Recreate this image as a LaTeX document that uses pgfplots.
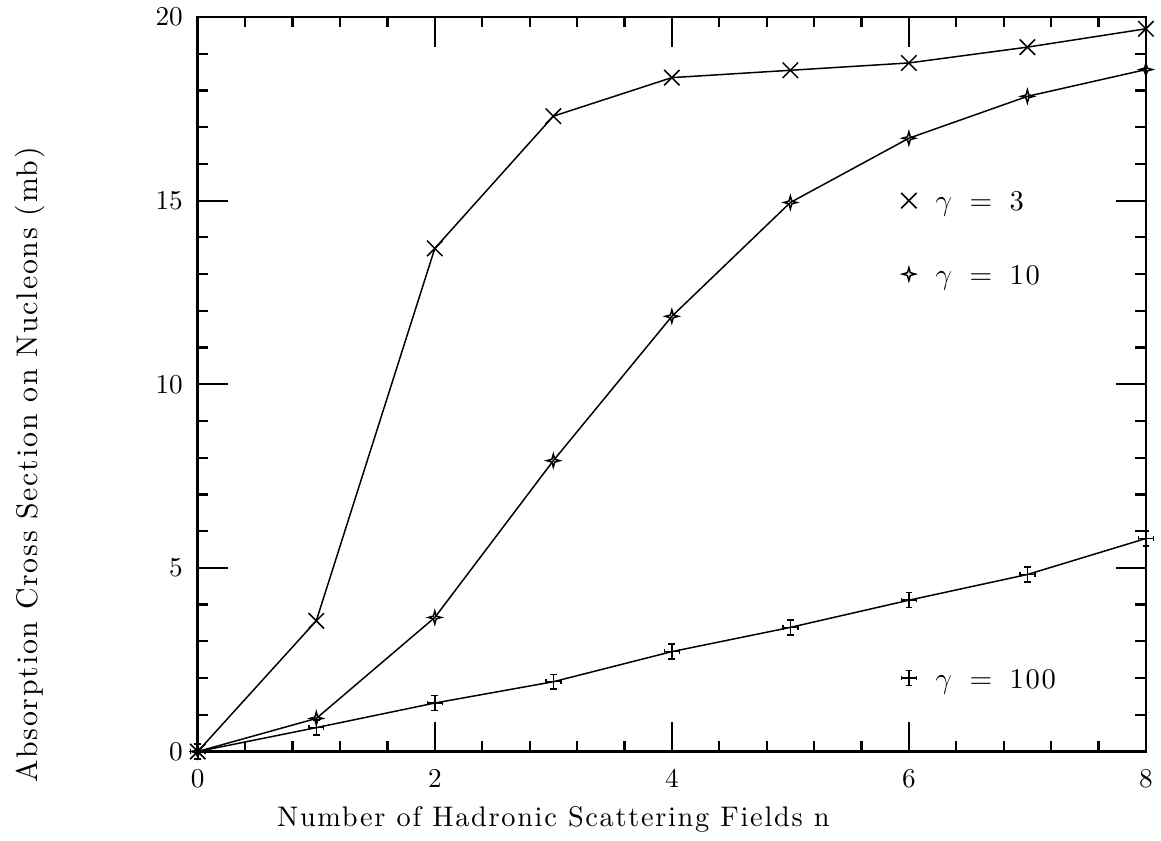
\documentclass[border=0pt]{standalone}
\usepackage{fontspec}
\setmainfont{lmroman10-regular.otf}[LetterSpace=6]
\usepackage{pgfplots}
\usepackage{pgfplotstable}
\pgfplotsset{compat=1.18}

\pgfdeclareplotmark{sparkle}{%
  \pgfpathmoveto{\pgfqpoint{0pt}{\pgfplotmarksize}}%
  \pgfpathlineto{\pgfqpoint{0.22\pgfplotmarksize}{0.22\pgfplotmarksize}}%
  \pgfpathlineto{\pgfqpoint{\pgfplotmarksize}{0pt}}%
  \pgfpathlineto{\pgfqpoint{0.22\pgfplotmarksize}{-0.22\pgfplotmarksize}}%
  \pgfpathlineto{\pgfqpoint{0pt}{-\pgfplotmarksize}}%
  \pgfpathlineto{\pgfqpoint{-0.22\pgfplotmarksize}{-0.22\pgfplotmarksize}}%
  \pgfpathlineto{\pgfqpoint{-\pgfplotmarksize}{0pt}}%
  \pgfpathlineto{\pgfqpoint{-0.22\pgfplotmarksize}{0.22\pgfplotmarksize}}%
  \pgfpathclose\pgfusepathqstroke}

\pgfdeclareplotmark{ebar}{%
  \pgfpathmoveto{\pgfqpoint{0pt}{-\pgfplotmarksize}}\pgfpathlineto{\pgfqpoint{0pt}{\pgfplotmarksize}}%
  \pgfpathmoveto{\pgfqpoint{-0.45\pgfplotmarksize}{\pgfplotmarksize}}\pgfpathlineto{\pgfqpoint{0.45\pgfplotmarksize}{\pgfplotmarksize}}%
  \pgfpathmoveto{\pgfqpoint{-0.45\pgfplotmarksize}{-\pgfplotmarksize}}\pgfpathlineto{\pgfqpoint{0.45\pgfplotmarksize}{-\pgfplotmarksize}}%
  \pgfpathmoveto{\pgfqpoint{-\pgfplotmarksize}{0pt}}\pgfpathlineto{\pgfqpoint{\pgfplotmarksize}{0pt}}%
  \pgfpathmoveto{\pgfqpoint{-\pgfplotmarksize}{-0.3\pgfplotmarksize}}\pgfpathlineto{\pgfqpoint{-\pgfplotmarksize}{0.3\pgfplotmarksize}}%
  \pgfpathmoveto{\pgfqpoint{\pgfplotmarksize}{-0.3\pgfplotmarksize}}\pgfpathlineto{\pgfqpoint{\pgfplotmarksize}{0.3\pgfplotmarksize}}%
  \pgfusepathqstroke}

\pgfplotstableread{
n g3 g10 g100
0 0 0 0
1 3.56 0.90 0.65
2 13.7 3.65 1.32
3 17.3 7.92 1.90
4 18.35 11.85 2.72
5 18.55 14.95 3.38
6 18.75 16.70 4.12
7 19.18 17.84 4.82
8 19.68 18.57 5.80
}\datatable

\begin{document}
\begin{tikzpicture}
\begin{axis}[name=ax,
  scale only axis, width=381.6pt, height=295.6pt,
  xmin=0, xmax=8, ymin=0, ymax=20,
  xtick={0,2,4,6,8}, ytick={0,5,10,15,20},
  minor x tick num=4, minor y tick num=4,
  tick align=inside, major tick length=12pt, minor tick length=4.2pt,
  axis line style={line width=1.1pt},
  every tick/.style={black, line width=0.9pt},
  tick label style={font=\fontsize{11}{13}\selectfont},
  xticklabel style={yshift=-4pt},
  yticklabel style={xshift=-2.5pt},
  clip=false,
  xlabel={Number of Hadronic Scattering Fields n},
  ylabel={Absorption Cross Section on Nucleons (mb)},
  xlabel style={font=\fontsize{11.4}{13}\selectfont, at={(axis description cs:0.375,-0.1015)}, anchor=base},
  ylabel style={font=\fontsize{12}{14}\selectfont, at={(axis description cs:-0.177,0.39)}, anchor=center},
]
\addplot[black, line width=0.6pt, mark=x, mark size=4.4pt] table[x=n, y=g3] {\datatable};
\addplot[black, line width=0.6pt, mark=sparkle, mark size=2.6pt] table[x=n, y=g10] {\datatable};
\addplot[black, line width=0.6pt, mark=ebar, mark size=3pt] table[x=n, y=g100] {\datatable};

\addplot[black, only marks, line width=0.6pt, mark=x, mark size=4.4pt] coordinates {(6,15)};
\addplot[black, only marks, line width=0.6pt, mark=sparkle, mark size=2.6pt] coordinates {(6,13)};
\addplot[black, only marks, line width=0.6pt, mark=ebar, mark size=3pt] coordinates {(6,2)};

\node[anchor=base west, inner sep=0pt, xshift=10.5pt, yshift=-4pt, font=\fontsize{11.5}{13}\selectfont] at (axis cs:6,15) {$\gamma$\hspace{7pt}$=$\hspace{7pt}3};
\node[anchor=base west, inner sep=0pt, xshift=10.5pt, yshift=-4pt, font=\fontsize{11.5}{13}\selectfont] at (axis cs:6,13) {$\gamma$\hspace{7pt}$=$\hspace{7pt}10};
\node[anchor=base west, inner sep=0pt, xshift=10.5pt, yshift=-4pt, font=\fontsize{11.5}{13}\selectfont] at (axis cs:6,2) {$\gamma$\hspace{7pt}$=$\hspace{7pt}100};
\end{axis}
\path (ax.south west) ++(-79.6pt,-35.2pt) coordinate (bbl);
\path (ax.north east) ++(3.2pt,5.6pt) coordinate (bbr);
\path[use as bounding box] (bbl) rectangle (bbr);
\end{tikzpicture}
\end{document}
